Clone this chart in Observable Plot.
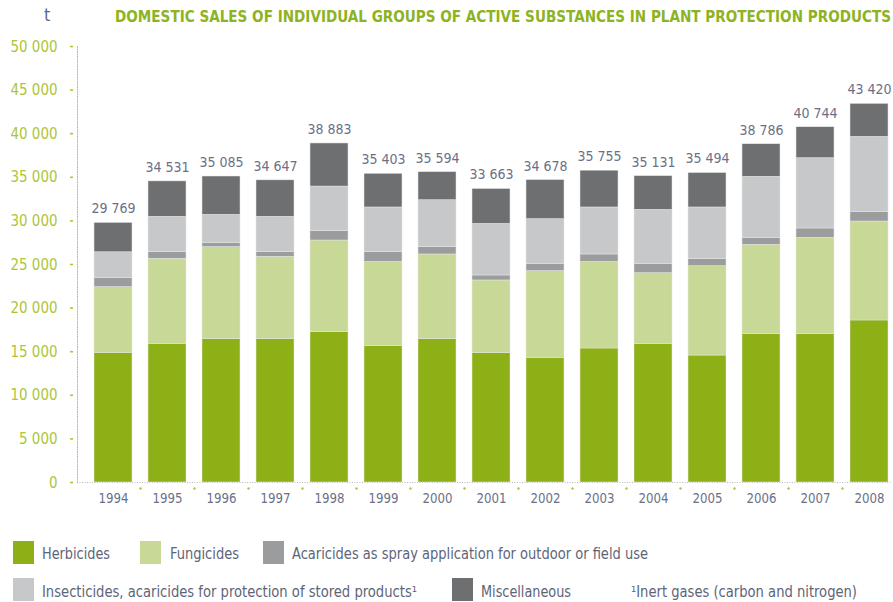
<!DOCTYPE html>
<html>
<head>
<meta charset="utf-8">
<script src="https://cdn.jsdelivr.net/npm/d3@7"></script>
<script src="https://cdn.jsdelivr.net/npm/@observablehq/plot@0.6"></script>
<style>
  html, body { margin: 0; padding: 0; background: #ffffff; }
  #wrap { width: 893px; height: 602px; position: relative; overflow: hidden; }
  .cond { font-family: "Liberation Sans Narrow", "DejaVu Sans Condensed", "Roboto Condensed", "Liberation Sans", sans-serif; }
  svg { display: block; }
</style>
</head>
<body>
<div id="wrap">
  <svg id="head" width="893" height="30" class="cond">
    <text x="44" y="21" font-size="18" fill="#5b6a8e">t</text>
    <text x="115" y="22" font-size="15" font-weight="bold" fill="#8db323" textLength="776" lengthAdjust="spacingAndGlyphs">DOMESTIC SALES OF INDIVIDUAL GROUPS OF ACTIVE SUBSTANCES IN PLANT PROTECTION PRODUCTS</text>
  </svg>
  <div id="chart"></div>
  <svg id="legend" width="893" height="82" class="cond"></svg>
</div>
<script>
const years = ["1994","1995","1996","1997","1998","1999","2000","2001","2002","2003","2004","2005","2006","2007","2008"];
const groups = [
  "Herbicides",
  "Fungicides",
  "Acaricides as spray application for outdoor or field use",
  "Insecticides, acaricides for protection of stored products¹",
  "Miscellaneous"
];
const herbicides   = [14870, 15900, 16440, 16440, 17240, 15630, 16440, 14830, 14300, 15370, 15900, 14560, 17010, 17010, 18580];
const fungicides   = [ 7530,  9750, 10550,  9440, 10510,  9670,  9710,  8340,  9940,  9930,  8100, 10250, 10250, 11050, 11350];
const acaricides   = [ 1030,   760,   500,   530,  1070,  1110,   840,   570,   840,   850,  1080,   800,   800,  1070,  1070];
const insecticides = [ 2970,  4060,  3210,  4060,  5120,  5130,  5380,  5920,  5120,  5390,  6190,  5930,  7000,  8060,  8640];
const miscellaneous= [ 3370,  4060,  4390,  4180,  4940,  3860,  3220,  4000,  4480,  4220,  3860,  3950,  3730,  3550,  3780];
const totals       = [29769, 34531, 35085, 34647, 38883, 35403, 35594, 33663, 34678, 35755, 35131, 35494, 38786, 40744, 43420];
const yTicks = [0, 5000, 10000, 15000, 20000, 25000, 30000, 35000, 40000, 45000, 50000];
const footnote = "¹Inert gases (carbon and nitrogen)";
const colors = ["#8cb015", "#c8d896", "#9b9c9e", "#c7c8ca", "#6e6f71"];

const series = [herbicides, fungicides, acaricides, insecticides, miscellaneous];
const rows = years.flatMap((yr, i) => groups.map((g, j) => ({year: yr, group: g, value: series[j][i]})));
const totalRows = years.map((yr, i) => ({year: yr, total: totals[i]}));
const fmt = v => v === 0 ? "0" : d3.format(",")(v).replace(/,/g, " ");

const FONT = '"Liberation Sans Narrow", "DejaVu Sans Condensed", "Roboto Condensed", "Liberation Sans", sans-serif';
const green = "#adc53a";
const txt = "#6b7089";

const chart = Plot.plot({
  width: 893,
  height: 490,
  marginTop: 16,
  marginBottom: 38,
  marginLeft: 90,
  marginRight: 2,
  style: {fontFamily: FONT, background: "transparent", overflow: "visible"},
  x: {domain: years, paddingInner: 0.3, paddingOuter: 0.05, label: null},
  y: {domain: [0, 50000], label: null},
  color: {domain: groups, range: colors},
  marks: [
    Plot.frame({anchor: "left", dx: -13, stroke: "#b9b9b9", strokeDasharray: "1,1.5"}),
    Plot.ruleY([0], {stroke: "#b9b9b9", strokeDasharray: "1,1.5", insetLeft: -13}),
    Plot.dot(years.slice(0, -1), {x: d => d, y: 0, dx: 27, dy: 6, r: 1.2, fill: green, stroke: null}),
    Plot.barY(rows, {x: "year", y: "value", fill: "group", stroke: "#e6e6e6", strokeWidth: 0.5}),
    Plot.text(totalRows, {x: "year", y: "total", text: d => fmt(d.total), dy: -14, fill: txt, fontSize: 14, ariaLabel: "totals"}),
    Plot.axisY({ticks: yTicks, tickFormat: fmt, tickSize: 3, dx: -17, tickPadding: 13, color: green, strokeWidth: 1.6, fontSize: 16, label: null}),
    Plot.axisX({tickSize: 0, tickPadding: 11, color: txt, fontSize: 14, label: null})
  ]
});
document.getElementById("chart").appendChild(chart);

// condense text to match the narrow typeface of the original
function squeeze(sel, sample, targetW) {
  const nodes = sel.nodes();
  const ref = nodes.find(n => n.textContent === sample) || nodes[0];
  if (!ref) return;
  const r = targetW / ref.getComputedTextLength();
  nodes.forEach(n => {
    const w = n.getComputedTextLength();
    n.setAttribute("textLength", (w * r).toFixed(2));
    n.setAttribute("lengthAdjust", "spacingAndGlyphs");
  });
}
const cs = d3.select(chart);
squeeze(cs.selectAll('g[aria-label="y-axis tick label"] text'), "50 000", 47);
squeeze(cs.selectAll('g[aria-label="x-axis tick label"] text'), "1994", 30);
squeeze(cs.selectAll('g[aria-label="totals"] text'), "34 531", 39);

// Legend
const leg = d3.select("#legend");
const items = [
  {g: 0, sx: 13, row: 0, tx: 42, tw: 68},
  {g: 1, sx: 140, row: 0, tx: 170, tw: 69},
  {g: 2, sx: 263, row: 0, tx: 292, tw: 356},
  {g: 3, sx: 13, row: 1, tx: 42, tw: 375},
  {g: 4, sx: 452, row: 1, tx: 481, tw: 90}
];
const rowY = [21, 58];
const rowBase = [39, 77];
items.forEach(it => {
  leg.append("rect").attr("x", it.sx).attr("y", rowY[it.row]).attr("width", 21).attr("height", 23).attr("fill", colors[it.g]);
  leg.append("text").attr("x", it.tx).attr("y", rowBase[it.row]).attr("font-size", 16).attr("fill", "#5d6478")
    .attr("textLength", it.tw).attr("lengthAdjust", "spacingAndGlyphs").text(groups[it.g]);
});
leg.append("text").attr("x", 631).attr("y", rowBase[1]).attr("font-size", 16).attr("fill", "#5d6478")
  .attr("textLength", 226).attr("lengthAdjust", "spacingAndGlyphs").text(footnote);
</script>
</body>
</html>
